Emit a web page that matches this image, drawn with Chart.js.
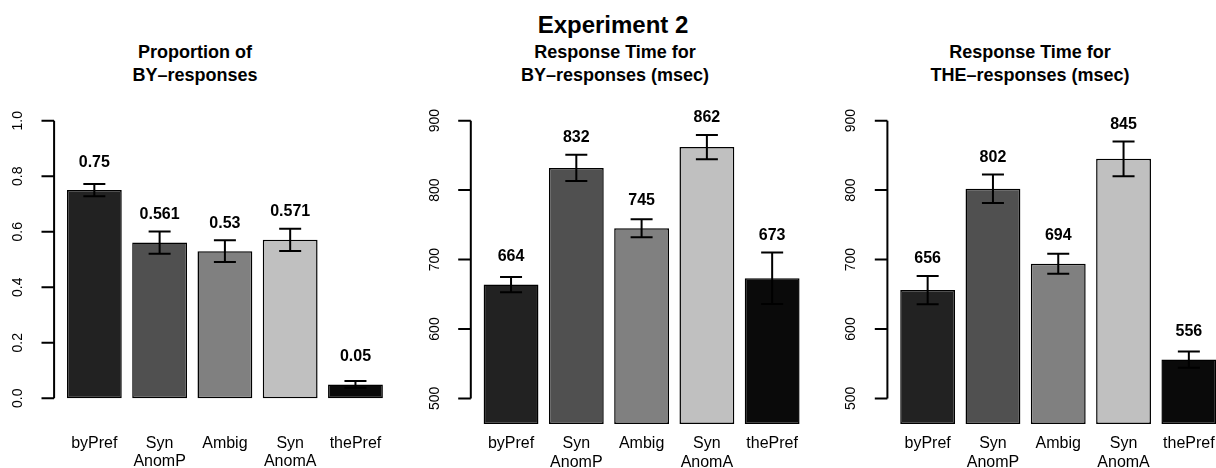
<!DOCTYPE html>
<html lang="en">
  <head>
    <meta charset="UTF-8" />
    <title>Experiment 2</title>
    <script src="https://cdn.jsdelivr.net/npm/chart.js@4.4.0/dist/chart.umd.min.js"></script>
    <style>
      body {
        margin: 0;
        width: 1216px;
        height: 468px;
        overflow: hidden;
        position: relative;
        background: #fff;
        font-family: "Liberation Sans", Arial, sans-serif;
        color: #000;
      }
      .title-main {
        position: absolute;
        left: 413px;
        width: 400px;
        top: 11px;
        text-align: center;
        font-weight: bold;
        font-size: 24px;
        line-height: 28px;
      }
      .sub-title {
        position: absolute;
        width: 400px;
        top: 41px;
        text-align: center;
        font-weight: bold;
        font-size: 18px;
        line-height: 23px;
      }
      .panel {
        position: absolute;
        top: 0;
      }
    </style>
  </head>
  <body>
    <div class="title-main">Experiment 2</div>
    <div class="sub-title" style="left: -5px">Proportion of<br />BY–responses</div>
    <div class="sub-title" style="left: 415px">Response Time for<br />BY–responses (msec)</div>
    <div class="sub-title" style="left: 830px">Response Time for<br />THE–responses (msec)</div>

    <canvas id="propChart" class="panel" width="410" height="468" style="left: 0px"></canvas>
    <canvas id="rtByChart" class="panel" width="405" height="468" style="left: 410px"></canvas>
    <canvas id="rtTheChart" class="panel" width="420" height="468" style="left: 815px"></canvas>

    <script>
      // categories and values
      var categories = [["byPref"], ["Syn", "AnomP"], ["Ambig"], ["Syn", "AnomA"], ["thePref"]];
      var barColors = ["#222222", "#505050", "#808080", "#c0c0c0", "#0a0a0a"];

      var propBy = [0.75, 0.561, 0.53, 0.571, 0.05];
      var propBySe = [0.022, 0.04, 0.039, 0.04, 0.012];

      var rtBy = [664, 832, 745, 862, 673];
      var rtBySe = [11, 19, 13, 17.5, 37];

      var rtThe = [656, 802, 694, 845, 556];
      var rtTheSe = [20.5, 20.5, 14.5, 25, 11.7];

      var propTicks = [0, 0.2, 0.4, 0.6, 0.8, 1.0];
      var propTickLabels = ["0.0", "0.2", "0.4", "0.6", "0.8", "1.0"];
      var rtTicks = [500, 600, 700, 800, 900];
      var rtTickLabels = ["500", "600", "700", "800", "900"];

      Chart.defaults.font.family = '"Liberation Sans", Arial, sans-serif';
      Chart.defaults.color = "#000";

      // R style y axis: line only between first and last tick, rotated labels
      var rAxis = {
        id: "rAxis",
        afterDraw: function (chart, args, opts) {
          var ctx = chart.ctx;
          var y = chart.scales.y;
          var ax = chart.chartArea.left - 7.6;
          ctx.save();
          ctx.strokeStyle = "#000";
          ctx.lineWidth = 2;
          ctx.beginPath();
          ctx.moveTo(ax, y.getPixelForValue(opts.ticks[0]));
          ctx.lineTo(ax, y.getPixelForValue(opts.ticks[opts.ticks.length - 1]));
          opts.ticks.forEach(function (t) {
            var py = y.getPixelForValue(t);
            ctx.moveTo(ax - 12.6, py);
            ctx.lineTo(ax, py);
          });
          ctx.stroke();
          ctx.fillStyle = "#000";
          ctx.font = '14px "Liberation Sans", Arial, sans-serif';
          ctx.textAlign = "center";
          ctx.textBaseline = "middle";
          opts.ticks.forEach(function (t, i) {
            ctx.save();
            ctx.translate(ax - 36, y.getPixelForValue(t));
            ctx.rotate(-Math.PI / 2);
            ctx.fillText(opts.labels[i], 0, 0);
            ctx.restore();
          });
          ctx.restore();
        },
      };

      // error bars plus the value printed above each bar
      var errBars = {
        id: "errBars",
        afterDatasetsDraw: function (chart, args, opts) {
          var ctx = chart.ctx;
          var y = chart.scales.y;
          var meta = chart.getDatasetMeta(0);
          var vals = chart.data.datasets[0].data;
          ctx.save();
          ctx.strokeStyle = "#000";
          ctx.lineWidth = 2;
          meta.data.forEach(function (bar, i) {
            var top = y.getPixelForValue(vals[i] + opts.se[i]);
            var bot = y.getPixelForValue(vals[i] - opts.se[i]);
            ctx.beginPath();
            ctx.moveTo(bar.x, top);
            ctx.lineTo(bar.x, bot);
            ctx.moveTo(bar.x - 11, top);
            ctx.lineTo(bar.x + 11, top);
            ctx.moveTo(bar.x - 11, bot);
            ctx.lineTo(bar.x + 11, bot);
            ctx.stroke();
          });
          ctx.fillStyle = "#000";
          ctx.font = 'bold 16px "Liberation Sans", Arial, sans-serif';
          ctx.textAlign = "center";
          ctx.textBaseline = "middle";
          meta.data.forEach(function (bar, i) {
            // above the bar, but kept clear of the error bar
            var at = Math.max(vals[i] + opts.labelOffset, vals[i] + opts.se[i] + opts.labelGap);
            ctx.fillText(String(vals[i]), bar.x, y.getPixelForValue(at));
          });
          ctx.restore();
        },
      };

      function makePanel(id, values, se, p) {
        return new Chart(document.getElementById(id).getContext("2d"), {
          type: "bar",
          data: {
            labels: categories,
            datasets: [
              {
                data: values,
                base: p.base,
                backgroundColor: barColors,
                borderColor: "#000",
                borderWidth: 1.5,
                borderSkipped: false,
                barPercentage: 0.84,
                categoryPercentage: 1,
              },
            ],
          },
          options: {
            responsive: false,
            animation: false,
            devicePixelRatio: 1,
            layout: {
              padding: { left: p.left, right: p.right, top: p.top, bottom: 0 },
            },
            plugins: {
              legend: { display: false },
              tooltip: { enabled: false },
              rAxis: { ticks: p.ticks, labels: p.tickLabels },
              errBars: { se: se, labelOffset: p.labelOffset, labelGap: p.labelGap },
            },
            scales: {
              x: {
                type: "category",
                offset: true,
                grid: { display: false, drawTicks: false },
                border: { display: false },
                ticks: {
                  padding: p.tickPad,
                  maxRotation: 0,
                  autoSkip: false,
                  font: { size: 16, lineHeight: 1.15 },
                },
                afterFit: function (scale) {
                  scale.height = p.xHeight;
                },
              },
              y: {
                type: "linear",
                display: false,
                min: p.min,
                max: p.max,
              },
            },
          },
          plugins: [rAxis, errBars],
        });
      }

      makePanel("propChart", propBy, propBySe, {
        min: -0.04, max: 1.04, base: 0,
        left: 61.7, right: 21.9, top: 109.6,
        xHeight: 58.6, tickPad: 25,
        ticks: propTicks, tickLabels: propTickLabels,
        labelOffset: 0.1, labelGap: 0.06,
      });

      makePanel("rtByChart", rtBy, rtBySe, {
        min: 463.2, max: 916.8, base: 463.2,
        left: 68.4, right: 10.2, top: 109,
        xHeight: 44, tickPad: 10.5,
        ticks: rtTicks, tickLabels: rtTickLabels,
        labelOffset: 40, labelGap: 25,
      });

      makePanel("rtTheChart", rtThe, rtTheSe, {
        min: 463.2, max: 916.8, base: 463.2,
        left: 80, right: 13.5, top: 109,
        xHeight: 44, tickPad: 10.5,
        ticks: rtTicks, tickLabels: rtTickLabels,
        labelOffset: 40, labelGap: 25,
      });
    </script>
  </body>
</html>
